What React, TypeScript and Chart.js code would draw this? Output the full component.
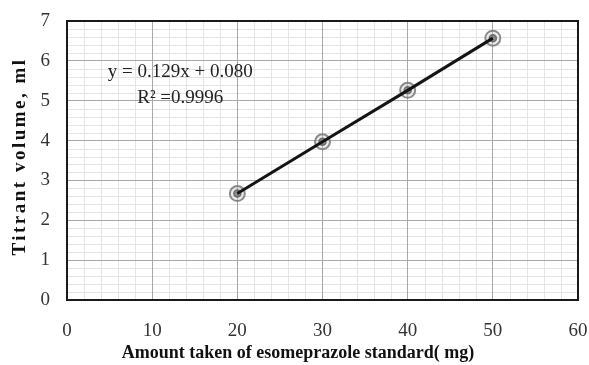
import React, { useEffect, useRef } from "react";
import { Chart, registerables } from "chart.js";

Chart.register(...registerables);

// ---- data ----
const amountMg = [20, 30, 40, 50];
const titrantMl = [2.67, 3.97, 5.26, 6.57];
const xTickValues = [0, 10, 20, 30, 40, 50, 60];
const yTickValues = [0, 1, 2, 3, 4, 5, 6, 7];
const equationText = "y = 0.129x + 0.080";
const r2Text = "R\u00B2 =0.9996";
const xTitleText = "Amount taken of esomeprazole standard( mg)";
const yTitleText = "Titrant volume, ml";

const SERIF = "'Liberation Serif', 'Times New Roman', serif";

const decorPlugin = {
  id: "decor",
  beforeDraw(chart: any) {
    const { ctx, chartArea: a, scales } = chart;
    const x = scales.x;
    const y = scales.y;
    ctx.save();
    ctx.fillStyle = "#ffffff";
    ctx.fillRect(a.left, a.top, a.right - a.left, a.bottom - a.top);
    ctx.strokeStyle = "#e4e4e4";
    ctx.lineWidth = 1;
    ctx.beginPath();
    for (let k = 0; k <= 30; k++) {
      if (k % 5 === 0) continue;
      const px = Math.round(x.getPixelForValue(k * 2)) + 0.5;
      ctx.moveTo(px, a.top);
      ctx.lineTo(px, a.bottom);
    }
    for (let k = 0; k <= 35; k++) {
      if (k % 5 === 0) continue;
      const py = Math.round(y.getPixelForValue(k * 0.2)) + 0.5;
      ctx.moveTo(a.left, py);
      ctx.lineTo(a.right, py);
    }
    ctx.stroke();
    ctx.restore();
  },
  afterDraw(chart: any) {
    const { ctx, chartArea: a, scales } = chart;
    const x = scales.x;
    const y = scales.y;
    ctx.save();
    // plot border
    ctx.strokeStyle = "#1a1a1a";
    ctx.lineWidth = 2;
    ctx.strokeRect(a.left, a.top, a.right - a.left, a.bottom - a.top);

    // annotation
    ctx.fillStyle = "#222";
    ctx.font = `19px ${SERIF}`;
    ctx.textAlign = "center";
    ctx.textBaseline = "middle";
    const cx = x.getPixelForValue(13.3);
    ctx.fillText(equationText, cx, y.getPixelForValue(5.72));
    ctx.fillText(r2Text, cx, y.getPixelForValue(5.06));

    // x title
    ctx.fillStyle = "#111";
    ctx.font = `bold 18px ${SERIF}`;
    ctx.textAlign = "center";
    ctx.textBaseline = "middle";
    ctx.fillText(xTitleText, 298, 353);

    // y title
    ctx.translate(20, 158);
    ctx.rotate(-Math.PI / 2);
    (ctx as any).letterSpacing = "2.5px";
    ctx.font = `bold 19px ${SERIF}`;
    ctx.fillText(yTitleText, 1.5, 0);
    ctx.restore();
  },
};

export default function App() {
  const canvasRef = useRef<HTMLCanvasElement | null>(null);

  useEffect(() => {
    document.body.style.margin = "0";
    const canvas = canvasRef.current;
    if (!canvas) return;
    const points = amountMg.map((v, i) => ({ x: v, y: titrantMl[i] }));
    const chart = new Chart(canvas, {
      type: "scatter",
      data: {
        datasets: [
          {
            label: "Trend",
            data: points,
            showLine: true,
            borderColor: "#141414",
            borderWidth: 3,
            pointRadius: 0,
            pointHoverRadius: 0,
            fill: false,
          },
          {
            label: "Inner",
            data: points,
            pointRadius: 3.5,
            pointBorderWidth: 1.5,
            pointBorderColor: "rgba(100,100,100,0.9)",
            pointBackgroundColor: "rgba(80,80,80,0.6)",
          },
          {
            label: "Outer",
            data: points,
            pointRadius: 7.5,
            pointBorderWidth: 2,
            pointBorderColor: "rgba(120,120,120,0.85)",
            pointBackgroundColor: "rgba(200,200,200,0.35)",
          },
        ],
      },
      options: {
        responsive: false,
        animation: false,
        layout: { padding: { top: 21, right: 11, left: 0, bottom: 0 } },
        plugins: {
          legend: { display: false },
          tooltip: { enabled: false },
        },
        scales: {
          x: {
            type: "linear",
            min: 0,
            max: 60,
            afterBuildTicks: (scale: any) => {
              scale.ticks = xTickValues.map((v) => ({ value: v }));
            },
            afterFit: (scale: any) => {
              scale.height = 65;
              scale.paddingLeft = 0;
              scale.paddingRight = 0;
            },
            grid: { color: "#a8a8a8", lineWidth: 1, drawTicks: false },
            border: { display: false },
            ticks: {
              padding: 20,
              color: "#333",
              font: { family: SERIF, size: 19 },
              maxRotation: 0,
            },
            title: { display: false },
          },
          y: {
            type: "linear",
            min: 0,
            max: 7,
            afterBuildTicks: (scale: any) => {
              scale.ticks = yTickValues.map((v) => ({ value: v }));
            },
            afterFit: (scale: any) => {
              scale.width = 67;
              scale.paddingTop = 0;
              scale.paddingBottom = 0;
            },
            grid: { color: "#a8a8a8", lineWidth: 1, drawTicks: false },
            border: { display: false },
            ticks: {
              padding: 17,
              color: "#333",
              font: { family: SERIF, size: 19 },
            },
            title: { display: false },
          },
        },
      },
      plugins: [decorPlugin],
    } as any);
    return () => chart.destroy();
  }, []);

  return (
    <div style={{ position: "fixed", left: 0, top: 0, width: 589, height: 365, background: "#fff" }}>
      <canvas ref={canvasRef} width={589} height={365} />
    </div>
  );
}
